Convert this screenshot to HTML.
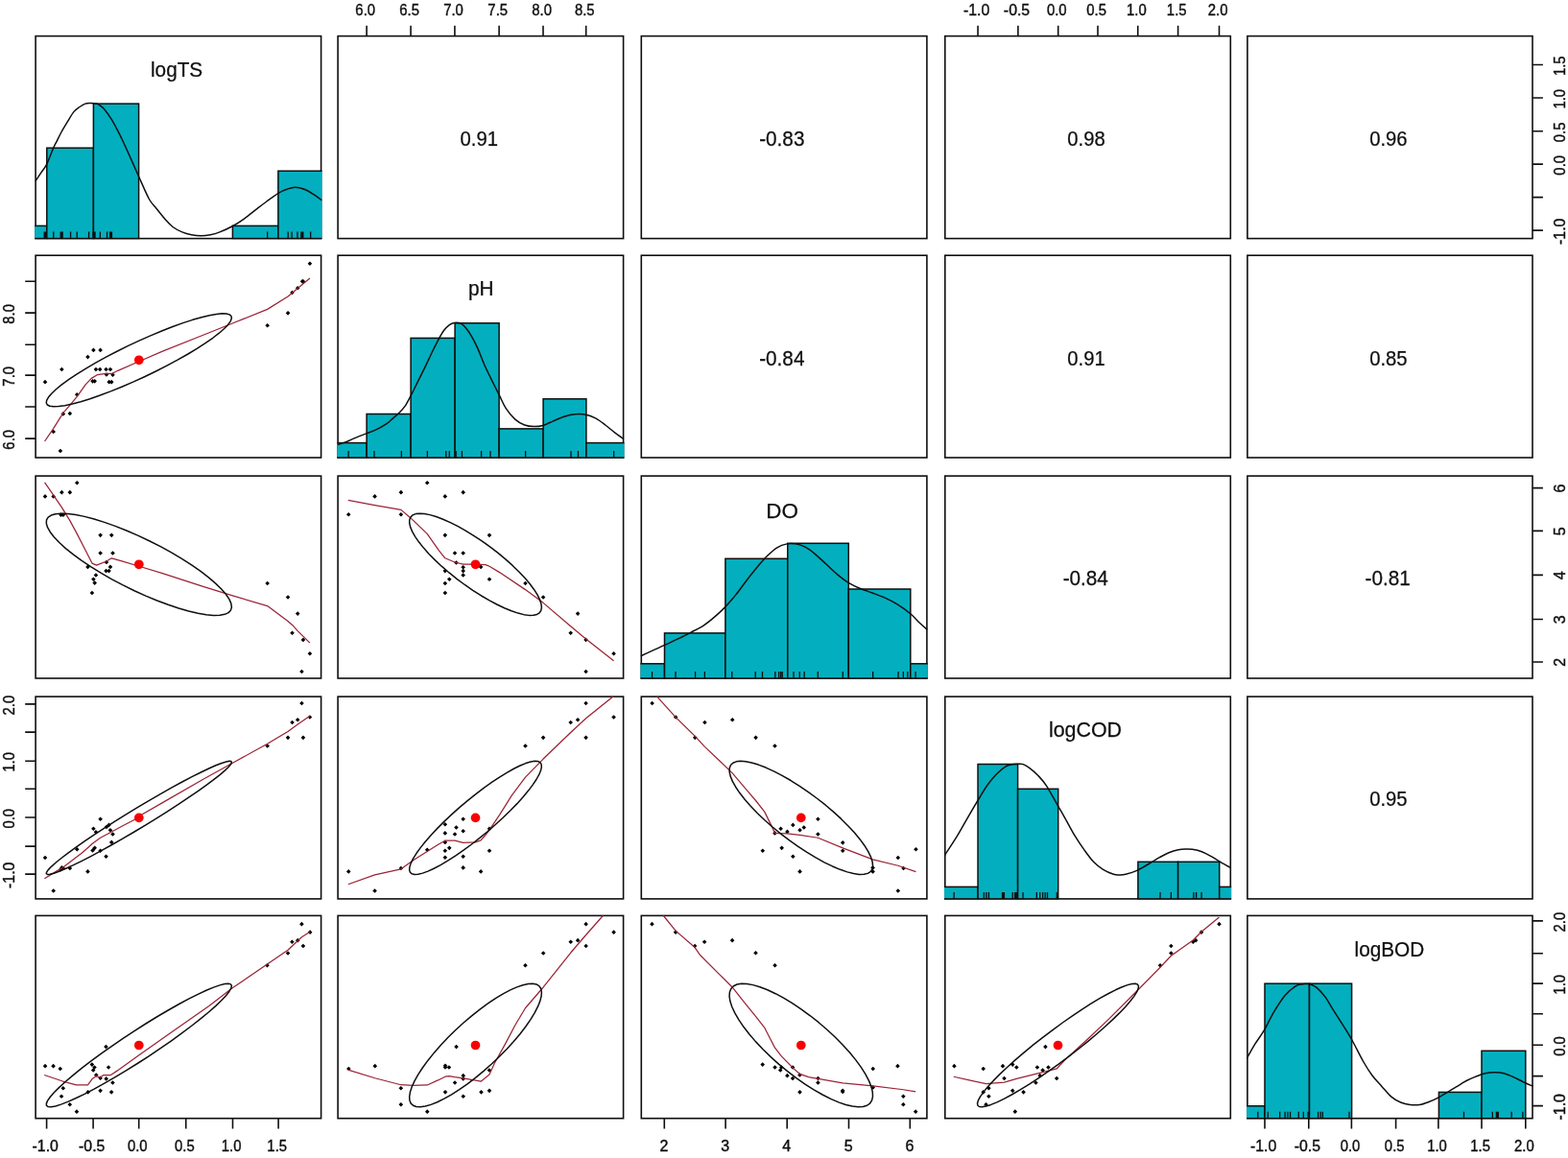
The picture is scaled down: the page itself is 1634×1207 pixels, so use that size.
<!DOCTYPE html>
<html lang="en"><head><meta charset="utf-8"><title>Scatterplot matrix: logTS, pH, DO, logCOD, logBOD</title>
<style>
html,body{margin:0;padding:0;background:#fff;}
body{width:1634px;height:1207px;overflow:hidden;}
svg{display:block;}
text{font-family:"Liberation Sans",sans-serif;fill:#0f0f0f;stroke:#0f0f0f;stroke-width:0.25px;}
.tk{font-size:16.0px;stroke-width:0.4px;}
.lb{font-size:21.2px;}
.cr{font-size:21.6px;}
.ln{fill:none;stroke:#0f0f0f;stroke-width:1.6;}
.th{fill:none;stroke:#0f0f0f;stroke-width:1.5;stroke-linejoin:round;}
.sm{fill:none;stroke:#9b2335;stroke-width:1.25;stroke-linejoin:round;}
.bar{fill:#03afbe;stroke:#0f0f0f;stroke-width:1.5;}
.pt{fill:#000;}
.mu{fill:#f80000;}
</style></head><body>
<svg width="1634" height="1207" viewBox="0 0 1634 1207" role="img" aria-label="Scatterplot matrix of logTS, pH, DO, logCOD and logBOD">
<rect x="0" y="0" width="1634" height="1207" fill="#fff"/>
<defs>
<clipPath id="c00"><rect x="36.25" y="36.75" width="299.2" height="212.7"/></clipPath>
<clipPath id="c01"><rect x="351.25" y="36.75" width="299.2" height="212.7"/></clipPath>
<clipPath id="c02"><rect x="667.45" y="36.75" width="299.3" height="212.7"/></clipPath>
<clipPath id="c03"><rect x="983.95" y="36.75" width="299.2" height="212.7"/></clipPath>
<clipPath id="c04"><rect x="1299.05" y="36.75" width="298.8" height="212.7"/></clipPath>
<clipPath id="c10"><rect x="36.25" y="265.35" width="299.2" height="212.5"/></clipPath>
<clipPath id="c11"><rect x="351.25" y="265.35" width="299.2" height="212.5"/></clipPath>
<clipPath id="c12"><rect x="667.45" y="265.35" width="299.3" height="212.5"/></clipPath>
<clipPath id="c13"><rect x="983.95" y="265.35" width="299.2" height="212.5"/></clipPath>
<clipPath id="c14"><rect x="1299.05" y="265.35" width="298.8" height="212.5"/></clipPath>
<clipPath id="c20"><rect x="36.25" y="495.25" width="299.2" height="212.6"/></clipPath>
<clipPath id="c21"><rect x="351.25" y="495.25" width="299.2" height="212.6"/></clipPath>
<clipPath id="c22"><rect x="667.45" y="495.25" width="299.3" height="212.6"/></clipPath>
<clipPath id="c23"><rect x="983.95" y="495.25" width="299.2" height="212.6"/></clipPath>
<clipPath id="c24"><rect x="1299.05" y="495.25" width="298.8" height="212.6"/></clipPath>
<clipPath id="c30"><rect x="36.25" y="725.25" width="299.2" height="212.5"/></clipPath>
<clipPath id="c31"><rect x="351.25" y="725.25" width="299.2" height="212.5"/></clipPath>
<clipPath id="c32"><rect x="667.45" y="725.25" width="299.3" height="212.5"/></clipPath>
<clipPath id="c33"><rect x="983.95" y="725.25" width="299.2" height="212.5"/></clipPath>
<clipPath id="c34"><rect x="1299.05" y="725.25" width="298.8" height="212.5"/></clipPath>
<clipPath id="c40"><rect x="36.25" y="953.55" width="299.2" height="213"/></clipPath>
<clipPath id="c41"><rect x="351.25" y="953.55" width="299.2" height="213"/></clipPath>
<clipPath id="c42"><rect x="667.45" y="953.55" width="299.3" height="213"/></clipPath>
<clipPath id="c43"><rect x="983.95" y="953.55" width="299.2" height="213"/></clipPath>
<clipPath id="c44"><rect x="1299.05" y="953.55" width="298.8" height="213"/></clipPath>
</defs>
<g id="p11">
<rect class="ln" x="37.1" y="37.6" width="297.5" height="211"/>
<g clip-path="url(#c00)">
<rect class="bar" x="32.1" y="235.4" width="16.7" height="13.2"/>
<rect class="bar" x="48.8" y="154.2" width="48.6" height="94.4"/>
<rect class="bar" x="97.4" y="108.1" width="47.2" height="140.5"/>
<rect class="bar" x="242.4" y="235.4" width="47.5" height="13.2"/>
<rect class="bar" x="289.9" y="178.2" width="49.7" height="70.4"/>
<path class="ln" style="stroke-width:1.3" d="M55.77 248.6 V241.6M73.59 248.6 V241.6M80.25 248.6 V241.6M92.59 248.6 V241.6M104.34 248.6 V241.6M111.58 248.6 V241.6M278.63 248.6 V241.6M300.17 248.6 V241.6M304.09 248.6 V241.6M309.97 248.6 V241.6M323.67 248.6 V241.6"/>
<path class="ln" style="stroke-width:3.2" d="M47.15 248.6 V241.6M64.19 248.6 V241.6M98.07 248.6 V241.6M115.5 248.6 V241.6M314.86 248.6 V241.6"/>
<path class="th" d="M36.9 188.9 C37.87 187.43 40.75 183.03 42.7 180.1 C44.65 177.17 46.47 175.55 48.6 171.3 C50.73 167.05 53.7 158.68 55.5 154.6 C57.3 150.52 58.02 149.57 59.4 146.8 C60.78 144.03 62 141.27 63.8 138 C65.6 134.73 68 130.8 70.2 127.2 C72.4 123.6 74.88 119.02 77 116.4 C79.12 113.78 80.93 112.88 82.9 111.5 C84.87 110.12 86.87 108.75 88.8 108.1 C90.73 107.45 92.55 107.6 94.5 107.6 C96.45 107.6 98.85 107.68 100.5 108.1 C102.15 108.52 103.08 109.2 104.4 110.1 C105.72 111 106.43 111.13 108.4 113.5 C110.37 115.87 113.92 120.7 116.2 124.3 C118.48 127.9 120.15 131.35 122.1 135.1 C124.05 138.85 125.3 141.25 127.9 146.8 C130.5 152.35 134.92 162.2 137.7 168.4 C140.48 174.6 141.65 177.48 144.6 184 C147.55 190.52 152.32 201.92 155.4 207.5 C158.48 213.08 160.18 213.83 163.1 217.5 C166.02 221.17 170.08 226.33 172.9 229.5 C175.72 232.67 177.18 234.43 180 236.5 C182.82 238.57 186.53 240.52 189.8 241.9 C193.07 243.28 196.33 244.15 199.6 244.8 C202.87 245.45 206.13 245.8 209.4 245.8 C212.67 245.8 215.93 245.45 219.2 244.8 C222.47 244.15 225.08 243.45 229 241.9 C232.92 240.35 238.47 237.8 242.7 235.5 C246.93 233.2 250.17 231.12 254.4 228.1 C258.63 225.08 264.18 220.42 268.1 217.4 C272.02 214.38 274.3 212.62 277.9 210 C281.5 207.38 286.43 203.73 289.7 201.7 C292.97 199.67 294.57 198.87 297.5 197.8 C300.43 196.73 304.03 195.38 307.3 195.3 C310.57 195.22 313.83 196.07 317.1 197.3 C320.37 198.53 323.83 200.77 326.9 202.7 C329.97 204.63 334.07 207.87 335.5 208.9"/>
</g>
<text class="lb" style="font-size:21.2px" transform="translate(184.1 79.9) scale(0.98 1)" text-anchor="middle">logTS</text>
</g>
<g id="p12">
<rect class="ln" x="352.1" y="37.6" width="297.5" height="211"/>
<text class="cr" transform="translate(499.25 152) scale(0.936 1)" text-anchor="middle">0.91</text>
</g>
<g id="p13">
<rect class="ln" x="668.3" y="37.6" width="297.6" height="211"/>
<text class="cr" transform="translate(814.8 152) scale(0.96 1)" text-anchor="middle">-0.83</text>
</g>
<g id="p14">
<rect class="ln" x="984.8" y="37.6" width="297.5" height="211"/>
<text class="cr" transform="translate(1131.95 152) scale(0.936 1)" text-anchor="middle">0.98</text>
</g>
<g id="p15">
<rect class="ln" x="1299.9" y="37.6" width="297.1" height="211"/>
<text class="cr" transform="translate(1446.85 152) scale(0.936 1)" text-anchor="middle">0.96</text>
</g>
<g id="p21">
<rect class="ln" x="37.1" y="266.2" width="297.5" height="210.8"/>
<g clip-path="url(#c10)">
<path class="pt" d="M47.01 395.87l2.3 2.3l-2.3 2.3l-2.3 -2.3zM55.69 447.76l2.3 2.3l-2.3 2.3l-2.3 -2.3zM62.89 467.67l2.3 2.3l-2.3 2.3l-2.3 -2.3zM64.37 382.74l2.3 2.3l-2.3 2.3l-2.3 -2.3zM65.85 429.12l2.3 2.3l-2.3 2.3l-2.3 -2.3zM72.84 428.7l2.3 2.3l-2.3 2.3l-2.3 -2.3zM80.25 409l2.3 2.3l-2.3 2.3l-2.3 -2.3zM91.48 369.82l2.3 2.3l-2.3 2.3l-2.3 -2.3zM97.41 362.62l2.3 2.3l-2.3 2.3l-2.3 -2.3zM104.6 362.62l2.3 2.3l-2.3 2.3l-2.3 -2.3zM99.95 382.74l2.3 2.3l-2.3 2.3l-2.3 -2.3zM104.18 382.74l2.3 2.3l-2.3 2.3l-2.3 -2.3zM110.53 382.74l2.3 2.3l-2.3 2.3l-2.3 -2.3zM114.98 382.74l2.3 2.3l-2.3 2.3l-2.3 -2.3zM96.56 395.03l2.3 2.3l-2.3 2.3l-2.3 -2.3zM98.68 395.03l2.3 2.3l-2.3 2.3l-2.3 -2.3zM113.71 395.87l2.3 2.3l-2.3 2.3l-2.3 -2.3zM116.25 395.87l2.3 2.3l-2.3 2.3l-2.3 -2.3zM110.96 388.25l2.3 2.3l-2.3 2.3l-2.3 -2.3zM117.52 388.46l2.3 2.3l-2.3 2.3l-2.3 -2.3zM278.66 336.99l2.3 2.3l-2.3 2.3l-2.3 -2.3zM300.05 324.07l2.3 2.3l-2.3 2.3l-2.3 -2.3zM304.5 302.68l2.3 2.3l-2.3 2.3l-2.3 -2.3zM310.21 298.02l2.3 2.3l-2.3 2.3l-2.3 -2.3zM315.08 291.03l2.3 2.3l-2.3 2.3l-2.3 -2.3zM315.93 291.03l2.3 2.3l-2.3 2.3l-2.3 -2.3zM322.92 272.4l2.3 2.3l-2.3 2.3l-2.3 -2.3z"/>
<path class="sm" d="M46.59 460.02 L55.69 446.67 L65.85 430.37 L72.84 422.32 L80.25 413.42 L88.94 401.14 L95.29 394.36 L101.64 390.55 L110.11 389.49 L116.46 389.49 L122.82 386.31 L144.84 376.78 L169.4 366.19 L211.75 349.25 L243.51 336.54 L278.66 322.35 L300.05 309.01 L310.21 300.54 L322.92 289.95"/>
<circle class="mu" cx="144.8" cy="375.3" r="4.85"/>
<path class="th" d="M239.2 327.9 L235.97 327 L231.35 326.83 L225.42 327.39 L218.27 328.68 L210.01 330.67 L200.76 333.34 L190.66 336.65 L179.86 340.54 L168.53 344.96 L156.85 349.84 L144.98 355.11 L133.11 360.68 L121.41 366.48 L110.07 372.4 L99.26 378.37 L89.13 384.3 L79.85 390.09 L71.56 395.65 L64.37 400.91 L58.41 405.78 L53.75 410.18 L50.47 414.06 L48.63 417.35 L48.24 420 L49.32 421.97 L51.84 423.24 L55.77 423.78 L61.05 423.58 L67.6 422.66 L75.33 421.01 L84.1 418.68 L93.8 415.68 L104.26 412.07 L115.35 407.91 L126.87 403.25 L138.68 398.17 L150.57 392.74 L162.38 387.04 L173.91 381.17 L185.01 375.21 L195.5 369.25 L205.22 363.38 L214.03 357.7 L221.78 352.28 L228.37 347.21 L233.69 342.56 L237.66 338.41 L240.23 334.82 L241.35 331.84 L241 329.53Z"/>
</g>
</g>
<g id="p22">
<rect class="ln" x="352.1" y="266.2" width="297.5" height="210.8"/>
<g clip-path="url(#c11)">
<rect class="bar" x="347.1" y="461.6" width="35" height="15.4"/>
<rect class="bar" x="382.1" y="431.5" width="46" height="45.5"/>
<rect class="bar" x="428.1" y="352.4" width="46" height="124.6"/>
<rect class="bar" x="474.1" y="336.8" width="46" height="140.2"/>
<rect class="bar" x="520.1" y="446.9" width="46" height="30.1"/>
<rect class="bar" x="566.1" y="415.8" width="44.8" height="61.2"/>
<rect class="bar" x="610.9" y="461.6" width="43.7" height="15.4"/>
<path class="ln" style="stroke-width:1.3" d="M363.13 477 V470M389.96 477 V470M418.36 477 V470M445.38 477 V470M464.77 477 V470M468.29 477 V470M475.15 477 V470M481.42 477 V470M501.59 477 V470M510.99 477 V470M547.61 477 V470M595 477 V470M602.44 477 V470M639.65 477 V470"/>
<path class="th" d="M351.77 463.58 C353.24 463.09 357.48 461.85 360.58 460.64 C363.68 459.44 366.85 457.8 370.38 456.33 C373.9 454.87 378.14 453.23 381.73 451.83 C385.32 450.43 388.26 449.71 391.92 447.91 C395.57 446.12 401.04 442.79 403.67 441.06 C406.3 439.32 405.73 439.23 407.7 437.5 C409.67 435.77 413.05 433.15 415.5 430.7 C417.95 428.25 420.27 425.9 422.4 422.8 C424.53 419.7 426.18 416.17 428.3 412.1 C430.42 408.03 432.67 403.3 435.1 398.4 C437.53 393.5 440.28 388.1 442.9 382.7 C445.52 377.3 448.5 370.73 450.8 366 C453.1 361.27 454.75 357.88 456.7 354.3 C458.65 350.72 460.55 347.12 462.5 344.5 C464.45 341.88 466.6 339.93 468.4 338.6 C470.2 337.27 471.33 336.75 473.3 336.5 C475.27 336.25 478.08 336.1 480.2 337.1 C482.32 338.1 484.05 340.13 486 342.5 C487.95 344.87 489.93 347.87 491.9 351.3 C493.87 354.73 495.62 358.2 497.8 363.1 C499.98 368 502.74 375.54 505 380.7 C507.26 385.86 508.85 388.89 511.38 394.05 C513.91 399.22 517.58 406.46 520.19 411.68 C522.8 416.9 524.27 421.15 527.05 425.39 C529.82 429.63 533.57 434.2 536.84 437.14 C540.1 440.08 543.37 441.78 546.63 443.02 C549.89 444.26 553.22 444.52 556.42 444.58 C559.62 444.65 562.56 444.32 565.82 443.41 C569.09 442.49 572.35 440.63 576.01 439.1 C579.66 437.57 583.84 435.44 587.76 434.2 C591.67 432.96 595.66 431.98 599.51 431.66 C603.36 431.33 607.27 431.49 610.87 432.24 C614.46 433 617.72 434.37 621.05 436.16 C624.38 437.96 627.58 440.57 630.84 443.02 C634.1 445.46 637.43 448.4 640.63 450.85 C643.83 453.3 648.47 456.56 650.03 457.71"/>
</g>
<text class="lb" style="font-size:21.2px" transform="translate(501.2 308.4) scale(0.98 1)" text-anchor="middle">pH</text>
</g>
<g id="p23">
<rect class="ln" x="668.3" y="266.2" width="297.6" height="210.8"/>
<text class="cr" transform="translate(814.8 380.5) scale(0.96 1)" text-anchor="middle">-0.84</text>
</g>
<g id="p24">
<rect class="ln" x="984.8" y="266.2" width="297.5" height="210.8"/>
<text class="cr" transform="translate(1131.95 380.5) scale(0.936 1)" text-anchor="middle">0.91</text>
</g>
<g id="p25">
<rect class="ln" x="1299.9" y="266.2" width="297.1" height="210.8"/>
<text class="cr" transform="translate(1446.85 380.5) scale(0.936 1)" text-anchor="middle">0.85</text>
</g>
<g id="p31">
<rect class="ln" x="37.1" y="496.1" width="297.5" height="210.9"/>
<g clip-path="url(#c20)">
<path class="pt" d="M47.01 515.09l2.3 2.3l-2.3 2.3l-2.3 -2.3zM55.69 515.09l2.3 2.3l-2.3 2.3l-2.3 -2.3zM64.37 510.86l2.3 2.3l-2.3 2.3l-2.3 -2.3zM72.84 510.86l2.3 2.3l-2.3 2.3l-2.3 -2.3zM80.25 500.9l2.3 2.3l-2.3 2.3l-2.3 -2.3zM63.53 534.37l2.3 2.3l-2.3 2.3l-2.3 -2.3zM65.85 534.37l2.3 2.3l-2.3 2.3l-2.3 -2.3zM91.48 588.59l2.3 2.3l-2.3 2.3l-2.3 -2.3zM97.41 601.51l2.3 2.3l-2.3 2.3l-2.3 -2.3zM98.68 605.32l2.3 2.3l-2.3 2.3l-2.3 -2.3zM99.95 597.27l2.3 2.3l-2.3 2.3l-2.3 -2.3zM95.92 615.7l2.3 2.3l-2.3 2.3l-2.3 -2.3zM104.6 555.55l2.3 2.3l-2.3 2.3l-2.3 -2.3zM104.6 574.18l2.3 2.3l-2.3 2.3l-2.3 -2.3zM116.25 555.55l2.3 2.3l-2.3 2.3l-2.3 -2.3zM117.52 574.18l2.3 2.3l-2.3 2.3l-2.3 -2.3zM110.96 583.71l2.3 2.3l-2.3 2.3l-2.3 -2.3zM114.98 588.59l2.3 2.3l-2.3 2.3l-2.3 -2.3zM110.53 592.82l2.3 2.3l-2.3 2.3l-2.3 -2.3zM113.5 592.82l2.3 2.3l-2.3 2.3l-2.3 -2.3zM278.66 605.74l2.3 2.3l-2.3 2.3l-2.3 -2.3zM300.05 620.14l2.3 2.3l-2.3 2.3l-2.3 -2.3zM310.21 637.3l2.3 2.3l-2.3 2.3l-2.3 -2.3zM304.5 657.42l2.3 2.3l-2.3 2.3l-2.3 -2.3zM315.93 664.62l2.3 2.3l-2.3 2.3l-2.3 -2.3zM322.92 679.02l2.3 2.3l-2.3 2.3l-2.3 -2.3zM314.45 697.66l2.3 2.3l-2.3 2.3l-2.3 -2.3z"/>
<path class="sm" d="M46.59 502.78 L55.69 516.12 L64.37 528.83 L72.84 542.6 L80.25 556.36 L88.94 573.31 L95.92 587.07 L100.58 589.19 L110.96 584.96 L116.25 581.78 L127.05 584.96 L145.05 590.25 L169.4 597.66 L211.75 611.43 L242.45 620.96 L278.66 631.55 L300.05 647.44 L304.92 651.67 L310.21 657.6 L322.92 670.1"/>
<circle class="mu" cx="144.8" cy="588.3" r="4.85"/>
<path class="th" d="M116.64 603.8 L128.21 609.93 L140.03 615.73 L151.92 621.12 L163.7 626 L175.2 630.32 L186.24 634 L196.65 636.99 L206.27 639.24 L214.96 640.72 L222.59 641.4 L229.04 641.28 L234.21 640.35 L238.03 638.64 L240.43 636.16 L241.38 632.96 L240.87 629.08 L238.91 624.58 L235.51 619.53 L230.74 614.01 L224.67 608.1 L217.39 601.89 L209.01 595.47 L199.65 588.95 L189.46 582.41 L178.6 575.96 L167.22 569.7 L155.5 563.73 L143.63 558.12 L131.76 552.97 L120.1 548.36 L108.81 544.35 L98.07 541.01 L88.03 538.39 L78.86 536.52 L70.68 535.44 L63.63 535.16 L57.81 535.68 L53.31 537.01 L50.19 539.11 L48.51 541.95 L48.29 545.5 L49.53 549.7 L52.22 554.48 L56.3 559.77 L61.74 565.5 L68.42 571.57 L76.27 577.9 L85.16 584.38 L94.95 590.93 L105.49 597.43Z"/>
</g>
</g>
<g id="p32">
<rect class="ln" x="352.1" y="496.1" width="297.5" height="210.9"/>
<g clip-path="url(#c21)">
<path class="pt" d="M363.24 533.94l2.3 2.3l-2.3 2.3l-2.3 -2.3zM390.56 515.09l2.3 2.3l-2.3 2.3l-2.3 -2.3zM417.88 510.86l2.3 2.3l-2.3 2.3l-2.3 -2.3zM417.88 533.94l2.3 2.3l-2.3 2.3l-2.3 -2.3zM445.19 500.9l2.3 2.3l-2.3 2.3l-2.3 -2.3zM463.83 515.09l2.3 2.3l-2.3 2.3l-2.3 -2.3zM482.67 510.86l2.3 2.3l-2.3 2.3l-2.3 -2.3zM463.83 555.55l2.3 2.3l-2.3 2.3l-2.3 -2.3zM509.99 555.55l2.3 2.3l-2.3 2.3l-2.3 -2.3zM473.99 574.18l2.3 2.3l-2.3 2.3l-2.3 -2.3zM482.67 574.18l2.3 2.3l-2.3 2.3l-2.3 -2.3zM475.47 584.14l2.3 2.3l-2.3 2.3l-2.3 -2.3zM482.67 589.01l2.3 2.3l-2.3 2.3l-2.3 -2.3zM482.67 592.82l2.3 2.3l-2.3 2.3l-2.3 -2.3zM482.67 597.27l2.3 2.3l-2.3 2.3l-2.3 -2.3zM463.83 592.82l2.3 2.3l-2.3 2.3l-2.3 -2.3zM468.27 601.51l2.3 2.3l-2.3 2.3l-2.3 -2.3zM463.83 605.74l2.3 2.3l-2.3 2.3l-2.3 -2.3zM463.83 615.7l2.3 2.3l-2.3 2.3l-2.3 -2.3zM501.09 588.59l2.3 2.3l-2.3 2.3l-2.3 -2.3zM509.99 601.51l2.3 2.3l-2.3 2.3l-2.3 -2.3zM547.47 605.74l2.3 2.3l-2.3 2.3l-2.3 -2.3zM566.1 620.14l2.3 2.3l-2.3 2.3l-2.3 -2.3zM602.1 637.3l2.3 2.3l-2.3 2.3l-2.3 -2.3zM594.69 657.42l2.3 2.3l-2.3 2.3l-2.3 -2.3zM610.57 664.62l2.3 2.3l-2.3 2.3l-2.3 -2.3zM639.58 679.02l2.3 2.3l-2.3 2.3l-2.3 -2.3zM610.57 697.66l2.3 2.3l-2.3 2.3l-2.3 -2.3z"/>
<path class="sm" d="M362.82 521.42 L390.56 526.71 L417.88 531.37 L427.41 539.42 L445.19 556.36 L457.05 573.31 L463.83 581.78 L473.99 586.01 L482.67 588.13 L495.38 588.13 L505.75 588.56 L509.99 590.25 L520.58 596.6 L547.47 614.61 L566.1 628.37 L594.69 652.73 L610.57 666.07 L639.58 688.74"/>
<circle class="mu" cx="495.5" cy="588.3" r="4.85"/>
<path class="th" d="M476.01 603.33 L484.28 609.48 L492.72 615.31 L501.2 620.73 L509.6 625.66 L517.78 630.02 L525.62 633.75 L533.01 636.8 L539.83 639.1 L545.97 640.64 L551.35 641.38 L555.89 641.32 L559.51 640.45 L562.16 638.79 L563.79 636.37 L564.4 633.22 L563.96 629.39 L562.48 624.93 L559.98 619.92 L556.51 614.43 L552.11 608.55 L546.86 602.36 L540.83 595.95 L534.11 589.43 L526.8 582.89 L519.02 576.43 L510.88 570.16 L502.51 564.16 L494.04 558.52 L485.58 553.34 L477.28 548.68 L469.25 544.63 L461.62 541.24 L454.51 538.56 L448.01 536.63 L442.24 535.49 L437.27 535.15 L433.18 535.62 L430.04 536.88 L427.9 538.92 L426.77 541.72 L426.69 545.21 L427.66 549.37 L429.65 554.11 L432.63 559.37 L436.58 565.06 L441.41 571.12 L447.07 577.43 L453.45 583.9 L460.48 590.44 L468.04 596.95Z"/>
</g>
</g>
<g id="p33">
<rect class="ln" x="668.3" y="496.1" width="297.6" height="210.9"/>
<g clip-path="url(#c22)">
<rect class="bar" x="663.3" y="691.8" width="29.2" height="15.2"/>
<rect class="bar" x="692.5" y="659.9" width="63.4" height="47.1"/>
<rect class="bar" x="755.9" y="582.3" width="64.9" height="124.7"/>
<rect class="bar" x="820.8" y="566.3" width="63.5" height="140.7"/>
<rect class="bar" x="884.3" y="614" width="64.5" height="93"/>
<rect class="bar" x="948.8" y="691.8" width="22.1" height="15.2"/>
<path class="ln" style="stroke-width:1.3" d="M679.52 707 V700M704 707 V700M724.56 707 V700M734.36 707 V700M762.75 707 V700M787.23 707 V700M794.48 707 V700M807.8 707 V700M811.71 707 V700M813.67 707 V700M815.24 707 V700M826.99 707 V700M833.25 707 V700M838.15 707 V700M852.25 707 V700M878.3 707 V700M909.63 707 V700M936.07 707 V700M941.36 707 V700M945.86 707 V700M954.09 707 V700"/>
<path class="th" d="M667.77 683.79 C669.89 682.81 676.36 679.81 680.5 677.91 C684.65 676.02 688.4 674.39 692.64 672.43 C696.89 670.47 701.46 668.35 705.96 666.16 C710.46 663.97 715.1 661.69 719.67 659.31 C724.24 656.92 729.13 654.64 733.38 651.86 C737.62 649.09 741.44 645.83 745.13 642.66 C748.82 639.49 751.92 636.62 755.51 632.87 C759.1 629.11 762.85 624.87 766.67 620.14 C770.49 615.4 774.5 609.53 778.42 604.47 C782.34 599.41 786.58 594.02 790.17 589.78 C793.76 585.54 796.7 582.17 799.96 579.01 C803.23 575.84 806.39 572.81 809.75 570.78 C813.12 568.76 816.87 567.52 820.13 566.87 C823.4 566.21 826.17 566.31 829.34 566.87 C832.5 567.42 835.87 568.5 839.13 570.2 C842.39 571.89 845.33 574.11 848.92 577.05 C852.51 579.99 856.76 584.23 860.67 587.82 C864.59 591.41 868.51 595.33 872.42 598.59 C876.34 601.86 880.26 604.96 884.17 607.41 C888.09 609.85 891.68 611.49 895.92 613.28 C900.17 615.08 905.06 616.45 909.63 618.18 C914.2 619.91 919.1 621.7 923.34 623.66 C927.58 625.62 930.85 627.25 935.09 629.93 C939.33 632.61 944.88 636.46 948.8 639.72 C952.72 642.99 955.65 646.74 958.59 649.51 C961.53 652.29 965.12 655.23 966.42 656.37"/>
</g>
<text class="lb" style="font-size:22.4px" transform="translate(815.1 539.7) scale(1.0 1)" text-anchor="middle">DO</text>
</g>
<g id="p34">
<rect class="ln" x="984.8" y="496.1" width="297.5" height="210.9"/>
<text class="cr" transform="translate(1131.25 610.45) scale(0.96 1)" text-anchor="middle">-0.84</text>
</g>
<g id="p35">
<rect class="ln" x="1299.9" y="496.1" width="297.1" height="210.9"/>
<text class="cr" transform="translate(1446.15 610.45) scale(0.96 1)" text-anchor="middle">-0.81</text>
</g>
<g id="p41">
<rect class="ln" x="37.1" y="726.1" width="297.5" height="210.8"/>
<g clip-path="url(#c30)">
<path class="pt" d="M47.01 891.7l2.3 2.3l-2.3 2.3l-2.3 -2.3zM55.69 926.23l2.3 2.3l-2.3 2.3l-2.3 -2.3zM62.89 904.2l2.3 2.3l-2.3 2.3l-2.3 -2.3zM64.37 902.08l2.3 2.3l-2.3 2.3l-2.3 -2.3zM65.85 902.72l2.3 2.3l-2.3 2.3l-2.3 -2.3zM72.84 902.72l2.3 2.3l-2.3 2.3l-2.3 -2.3zM80.25 883.02l2.3 2.3l-2.3 2.3l-2.3 -2.3zM91.48 906.11l2.3 2.3l-2.3 2.3l-2.3 -2.3zM97.41 861.42l2.3 2.3l-2.3 2.3l-2.3 -2.3zM99.95 865.02l2.3 2.3l-2.3 2.3l-2.3 -2.3zM104.6 851.46l2.3 2.3l-2.3 2.3l-2.3 -2.3zM96.56 884.08l2.3 2.3l-2.3 2.3l-2.3 -2.3zM98.68 881.54l2.3 2.3l-2.3 2.3l-2.3 -2.3zM104.6 884.5l2.3 2.3l-2.3 2.3l-2.3 -2.3zM110.53 890.43l2.3 2.3l-2.3 2.3l-2.3 -2.3zM110.96 859.72l2.3 2.3l-2.3 2.3l-2.3 -2.3zM113.5 857.6l2.3 2.3l-2.3 2.3l-2.3 -2.3zM114.98 862.9l2.3 2.3l-2.3 2.3l-2.3 -2.3zM117.52 867.14l2.3 2.3l-2.3 2.3l-2.3 -2.3zM116.25 875.61l2.3 2.3l-2.3 2.3l-2.3 -2.3zM278.66 775.22l2.3 2.3l-2.3 2.3l-2.3 -2.3zM300.05 766.53l2.3 2.3l-2.3 2.3l-2.3 -2.3zM304.5 750.65l2.3 2.3l-2.3 2.3l-2.3 -2.3zM310.21 747.9l2.3 2.3l-2.3 2.3l-2.3 -2.3zM314.45 730.74l2.3 2.3l-2.3 2.3l-2.3 -2.3zM315.93 766.53l2.3 2.3l-2.3 2.3l-2.3 -2.3zM322.92 745.14l2.3 2.3l-2.3 2.3l-2.3 -2.3z"/>
<path class="sm" d="M46.37 915.82 L55.9 909.89 L65.43 904.17 L75.59 896.54 L86.39 888.28 L96.35 879.18 L104.6 873.25 L115.4 867.53 L127.9 860.75 L140.39 854.19 L144.84 850.8 L169.4 836.61 L211.75 812.25 L242.45 795.31 L278.66 775.19 L300.05 762.48 L310.21 755.07 L322.92 746.17"/>
<circle class="mu" cx="144.8" cy="852.4" r="4.85"/>
<path class="th" d="M240.92 793.6 L239 793.32 L235.66 793.93 L230.94 795.43 L224.91 797.8 L217.67 800.99 L209.32 804.96 L200 809.65 L189.84 814.99 L179 820.9 L167.63 827.28 L155.93 834.05 L144.05 841.09 L132.18 848.3 L120.51 855.58 L109.21 862.81 L98.44 869.88 L88.38 876.68 L79.17 883.12 L70.96 889.09 L63.86 894.51 L58 899.28 L53.44 903.35 L50.28 906.64 L48.55 909.12 L48.27 910.73 L49.46 911.46 L52.1 911.29 L56.14 910.23 L61.52 908.29 L68.17 905.51 L75.97 901.92 L84.83 897.58 L94.59 892.55 L105.11 886.92 L116.23 880.76 L127.79 874.18 L139.6 867.26 L151.5 860.12 L163.29 852.86 L174.8 845.59 L185.86 838.43 L196.29 831.48 L205.94 824.85 L214.67 818.63 L222.34 812.93 L228.83 807.82 L234.05 803.39 L237.91 799.7 L240.37 796.81 L241.37 794.77Z"/>
</g>
</g>
<g id="p42">
<rect class="ln" x="352.1" y="726.1" width="297.5" height="210.8"/>
<g clip-path="url(#c31)">
<path class="pt" d="M363.24 906.11l2.3 2.3l-2.3 2.3l-2.3 -2.3zM390.56 926.23l2.3 2.3l-2.3 2.3l-2.3 -2.3zM417.88 902.72l2.3 2.3l-2.3 2.3l-2.3 -2.3zM445.19 883.44l2.3 2.3l-2.3 2.3l-2.3 -2.3zM463.83 856.97l2.3 2.3l-2.3 2.3l-2.3 -2.3zM463.83 866.08l2.3 2.3l-2.3 2.3l-2.3 -2.3zM463.83 875.61l2.3 2.3l-2.3 2.3l-2.3 -2.3zM463.83 884.5l2.3 2.3l-2.3 2.3l-2.3 -2.3zM463.83 891.49l2.3 2.3l-2.3 2.3l-2.3 -2.3zM468.27 881.54l2.3 2.3l-2.3 2.3l-2.3 -2.3zM473.99 867.14l2.3 2.3l-2.3 2.3l-2.3 -2.3zM475.47 860.15l2.3 2.3l-2.3 2.3l-2.3 -2.3zM482.67 851.46l2.3 2.3l-2.3 2.3l-2.3 -2.3zM482.67 863.96l2.3 2.3l-2.3 2.3l-2.3 -2.3zM482.67 890.43l2.3 2.3l-2.3 2.3l-2.3 -2.3zM482.67 902.08l2.3 2.3l-2.3 2.3l-2.3 -2.3zM501.09 906.11l2.3 2.3l-2.3 2.3l-2.3 -2.3zM509.99 861.42l2.3 2.3l-2.3 2.3l-2.3 -2.3zM509.99 884.5l2.3 2.3l-2.3 2.3l-2.3 -2.3zM547.47 775.22l2.3 2.3l-2.3 2.3l-2.3 -2.3zM566.1 766.53l2.3 2.3l-2.3 2.3l-2.3 -2.3zM594.69 750.65l2.3 2.3l-2.3 2.3l-2.3 -2.3zM602.1 747.9l2.3 2.3l-2.3 2.3l-2.3 -2.3zM610.57 730.74l2.3 2.3l-2.3 2.3l-2.3 -2.3zM610.57 766.53l2.3 2.3l-2.3 2.3l-2.3 -2.3zM639.58 745.14l2.3 2.3l-2.3 2.3l-2.3 -2.3z"/>
<path class="sm" d="M362.82 921.75 L390.56 911.79 L417.88 905.86 L431.64 895.91 L445.19 887.44 L457.05 880.02 L463.83 876.21 L473.99 876.21 L482.67 878.33 L495.38 877.91 L501.09 875.79 L505.75 870.49 L509.99 865.2 L520.58 849.31 L533.28 829.19 L547.47 810.13 L566.1 791.07 L594.69 763.54 L610.57 748.71 L639.58 725.42"/>
<circle class="mu" cx="495.5" cy="852.4" r="4.85"/>
<path class="th" d="M562.83 794.65 L560.53 793.54 L557.23 793.33 L553.01 794.02 L547.91 795.59 L542.01 798.02 L535.41 801.27 L528.21 805.3 L520.51 810.05 L512.43 815.43 L504.09 821.38 L495.63 827.8 L487.16 834.59 L478.82 841.65 L470.73 848.87 L463.02 856.15 L455.8 863.37 L449.18 870.42 L443.26 877.2 L438.14 883.6 L433.88 889.54 L430.56 894.9 L428.22 899.63 L426.91 903.64 L426.63 906.87 L427.4 909.27 L429.2 910.82 L432 911.48 L435.77 911.24 L440.44 910.11 L445.95 908.1 L452.21 905.26 L459.12 901.61 L466.59 897.21 L474.49 892.13 L482.71 886.46 L491.13 880.26 L499.61 873.65 L508.04 866.71 L516.27 859.55 L524.18 852.29 L531.66 845.03 L538.6 837.88 L544.88 830.95 L550.41 824.34 L555.11 818.16 L558.9 812.5 L561.73 807.45 L563.57 803.07 L564.36 799.45 L564.12 796.62Z"/>
</g>
</g>
<g id="p43">
<rect class="ln" x="668.3" y="726.1" width="297.6" height="210.8"/>
<g clip-path="url(#c32)">
<path class="pt" d="M679.6 730.74l2.3 2.3l-2.3 2.3l-2.3 -2.3zM704.16 745.14l2.3 2.3l-2.3 2.3l-2.3 -2.3zM724.28 766.53l2.3 2.3l-2.3 2.3l-2.3 -2.3zM734.44 750.65l2.3 2.3l-2.3 2.3l-2.3 -2.3zM763.24 747.9l2.3 2.3l-2.3 2.3l-2.3 -2.3zM787.59 766.53l2.3 2.3l-2.3 2.3l-2.3 -2.3zM807.49 775.22l2.3 2.3l-2.3 2.3l-2.3 -2.3zM794.79 884.5l2.3 2.3l-2.3 2.3l-2.3 -2.3zM807.49 866.08l2.3 2.3l-2.3 2.3l-2.3 -2.3zM813.64 861.42l2.3 2.3l-2.3 2.3l-2.3 -2.3zM814.69 881.54l2.3 2.3l-2.3 2.3l-2.3 -2.3zM820.41 864.59l2.3 2.3l-2.3 2.3l-2.3 -2.3zM826.34 857.6l2.3 2.3l-2.3 2.3l-2.3 -2.3zM826.34 890.43l2.3 2.3l-2.3 2.3l-2.3 -2.3zM833.54 862.9l2.3 2.3l-2.3 2.3l-2.3 -2.3zM837.77 860.15l2.3 2.3l-2.3 2.3l-2.3 -2.3zM833.54 906.11l2.3 2.3l-2.3 2.3l-2.3 -2.3zM852.39 851.46l2.3 2.3l-2.3 2.3l-2.3 -2.3zM852.39 867.14l2.3 2.3l-2.3 2.3l-2.3 -2.3zM878.22 876.03l2.3 2.3l-2.3 2.3l-2.3 -2.3zM878.22 884.5l2.3 2.3l-2.3 2.3l-2.3 -2.3zM909.56 902.08l2.3 2.3l-2.3 2.3l-2.3 -2.3zM909.56 906.11l2.3 2.3l-2.3 2.3l-2.3 -2.3zM935.82 891.7l2.3 2.3l-2.3 2.3l-2.3 -2.3zM941.53 902.72l2.3 2.3l-2.3 2.3l-2.3 -2.3zM954.45 883.02l2.3 2.3l-2.3 2.3l-2.3 -2.3zM935.82 926.23l2.3 2.3l-2.3 2.3l-2.3 -2.3z"/>
<path class="sm" d="M684.47 725.84 L704.16 747.65 L724.28 767.35 L734.44 778.36 L750.11 793.19 L763.24 805.9 L777.64 822.84 L787.59 834.49 L796.7 846.14 L803.05 858.85 L807.49 868.38 L820.41 868.8 L833.54 870.49 L852.39 873.25 L878.22 883.84 L909.56 895.91 L935.82 902.26 L954.45 908.62"/>
<circle class="mu" cx="834.8" cy="852.4" r="4.85"/>
<path class="th" d="M813.66 869.12 L822.63 875.96 L831.78 882.44 L840.99 888.46 L850.09 893.95 L858.97 898.8 L867.48 902.94 L875.49 906.32 L882.89 908.89 L889.56 910.59 L895.4 911.42 L900.31 911.35 L904.24 910.39 L907.11 908.55 L908.89 905.85 L909.55 902.35 L909.07 898.09 L907.46 893.13 L904.76 887.56 L900.99 881.46 L896.22 874.92 L890.52 868.03 L883.97 860.91 L876.68 853.66 L868.76 846.38 L860.32 839.21 L851.49 832.23 L842.41 825.55 L833.21 819.29 L824.04 813.52 L815.03 808.35 L806.32 803.84 L798.05 800.07 L790.33 797.09 L783.28 794.95 L777.01 793.68 L771.63 793.3 L767.19 793.82 L763.79 795.23 L761.46 797.5 L760.24 800.6 L760.15 804.49 L761.19 809.11 L763.35 814.38 L766.6 820.23 L770.87 826.56 L776.12 833.29 L782.25 840.31 L789.19 847.51 L796.81 854.78 L805.01 862.02Z"/>
</g>
</g>
<g id="p44">
<rect class="ln" x="984.8" y="726.1" width="297.5" height="210.8"/>
<g clip-path="url(#c33)">
<rect class="bar" x="979.8" y="924.4" width="39.25" height="12.5"/>
<rect class="bar" x="1019.05" y="796.5" width="41.55" height="140.4"/>
<rect class="bar" x="1060.6" y="822.3" width="42.1" height="114.6"/>
<rect class="bar" x="1185.9" y="898.3" width="41.7" height="38.6"/>
<rect class="bar" x="1227.6" y="898.3" width="43.1" height="38.6"/>
<rect class="bar" x="1270.7" y="924.4" width="16.6" height="12.5"/>
<path class="ln" style="stroke-width:1.3" d="M994.17 936.9 V929.9M1025.31 936.9 V929.9M1027.86 936.9 V929.9M1030.4 936.9 V929.9M1055.27 936.9 V929.9M1066.04 936.9 V929.9M1080.34 936.9 V929.9M1083.67 936.9 V929.9M1086.61 936.9 V929.9M1089.15 936.9 V929.9M1091.5 936.9 V929.9M1101.29 936.9 V929.9M1209.01 936.9 V929.9M1220.36 936.9 V929.9M1243.87 936.9 V929.9M1246.61 936.9 V929.9M1252.09 936.9 V929.9"/>
<path class="ln" style="stroke-width:3.2" d="M1045.48 936.9 V929.9M1058.6 936.9 V929.9"/>
<path class="th" d="M984 892.2 C984.15 891.97 982.63 894.3 984.9 890.8 C987.17 887.3 993.52 877.9 997.6 871.2 C1001.68 864.5 1005.8 856.8 1009.4 850.6 C1013 844.4 1015.93 839.38 1019.2 834 C1022.47 828.62 1025.73 822.88 1029 818.3 C1032.27 813.72 1035.53 809.77 1038.8 806.5 C1042.07 803.23 1045.67 800.35 1048.6 798.7 C1051.53 797.05 1054.28 797.02 1056.4 796.6 C1058.52 796.18 1059.67 796.2 1061.3 796.2 C1062.93 796.2 1064.25 795.85 1066.2 796.6 C1068.15 797.35 1070.38 798.72 1073 800.7 C1075.62 802.68 1078.95 805.4 1081.9 808.5 C1084.85 811.6 1087.28 814.08 1090.7 819.3 C1094.12 824.52 1099.13 834.08 1102.4 839.8 C1105.67 845.52 1107.35 848.37 1110.3 853.6 C1113.25 858.83 1116.83 865.82 1120.1 871.2 C1123.37 876.58 1126.62 881.33 1129.9 885.9 C1133.18 890.47 1136.52 895.18 1139.8 898.6 C1143.08 902.02 1146.17 904.28 1149.6 906.4 C1153.03 908.52 1157.53 910.37 1160.4 911.3 C1163.27 912.23 1164.68 912 1166.8 912 C1168.92 912 1170.1 912.07 1173.1 911.3 C1176.1 910.53 1180.55 909.37 1184.8 907.4 C1189.05 905.43 1194.67 901.78 1198.6 899.5 C1202.53 897.22 1205.15 895.48 1208.4 893.7 C1211.65 891.92 1214.85 890.12 1218.1 888.8 C1221.35 887.48 1225.03 886.43 1227.9 885.8 C1230.77 885.17 1232.85 885.08 1235.3 885 C1237.75 884.92 1239.75 884.83 1242.6 885.3 C1245.45 885.77 1249.13 886.57 1252.4 887.8 C1255.67 889.03 1258.93 890.9 1262.2 892.7 C1265.47 894.5 1268.5 896.57 1272 898.6 C1275.5 900.63 1281.33 903.85 1283.2 904.9"/>
</g>
<text class="lb" style="font-size:21.2px" transform="translate(1131 768.3) scale(1.01 1)" text-anchor="middle">logCOD</text>
</g>
<g id="p45">
<rect class="ln" x="1299.9" y="726.1" width="297.1" height="210.8"/>
<text class="cr" transform="translate(1446.85 840.4) scale(0.936 1)" text-anchor="middle">0.95</text>
</g>
<g id="p51">
<rect class="ln" x="37.1" y="954.4" width="297.5" height="211.3"/>
<g clip-path="url(#c40)">
<path class="pt" d="M47.06 1108.83l2.3 2.3l-2.3 2.3l-2.3 -2.3zM55.56 1108.83l2.3 2.3l-2.3 2.3l-2.3 -2.3zM62.75 1111.66l2.3 2.3l-2.3 2.3l-2.3 -2.3zM65.8 1131.92l2.3 2.3l-2.3 2.3l-2.3 -2.3zM64.06 1140.42l2.3 2.3l-2.3 2.3l-2.3 -2.3zM72.77 1148.92l2.3 2.3l-2.3 2.3l-2.3 -2.3zM79.96 1156.33l2.3 2.3l-2.3 2.3l-2.3 -2.3zM91.73 1136.06l2.3 2.3l-2.3 2.3l-2.3 -2.3zM95.87 1107.3l2.3 2.3l-2.3 2.3l-2.3 -2.3zM98.48 1110.13l2.3 2.3l-2.3 2.3l-2.3 -2.3zM97.18 1113.18l2.3 2.3l-2.3 2.3l-2.3 -2.3zM100.23 1118.2l2.3 2.3l-2.3 2.3l-2.3 -2.3zM104.58 1121.46l2.3 2.3l-2.3 2.3l-2.3 -2.3zM104.58 1134.54l2.3 2.3l-2.3 2.3l-2.3 -2.3zM110.47 1088.78l2.3 2.3l-2.3 2.3l-2.3 -2.3zM110.69 1122.12l2.3 2.3l-2.3 2.3l-2.3 -2.3zM113.08 1110.13l2.3 2.3l-2.3 2.3l-2.3 -2.3zM116.13 1136.06l2.3 2.3l-2.3 2.3l-2.3 -2.3zM117.44 1126.26l2.3 2.3l-2.3 2.3l-2.3 -2.3zM278.46 1004.02l2.3 2.3l-2.3 2.3l-2.3 -2.3zM300.03 991.16l2.3 2.3l-2.3 2.3l-2.3 -2.3zM304.38 979.4l2.3 2.3l-2.3 2.3l-2.3 -2.3zM310.27 977.87l2.3 2.3l-2.3 2.3l-2.3 -2.3zM314.41 960.87l2.3 2.3l-2.3 2.3l-2.3 -2.3zM315.93 983.75l2.3 2.3l-2.3 2.3l-2.3 -2.3zM323.12 969.37l2.3 2.3l-2.3 2.3l-2.3 -2.3z"/>
<path class="sm" d="M46.19 1120.5 L65.37 1127.03 L79.53 1130.95 L91.51 1130.95 L95.87 1124.85 L100.23 1121.58 L104.58 1123.11 L107.85 1120.5 L115.48 1120.5 L122.02 1116.14 L144.89 1099.8 L174.31 1079.1 L217.88 1048.59 L241.85 1030.07 L278.46 1005.01 L300.03 990.19 L314.41 976.68 L323.12 971.24"/>
<circle class="mu" cx="144.8" cy="1089.5" r="4.85"/>
<path class="th" d="M240.43 1025.85 L238.03 1025.21 L234.21 1025.55 L229.04 1026.86 L222.59 1029.12 L214.96 1032.29 L206.27 1036.33 L196.64 1041.18 L186.23 1046.76 L175.2 1052.99 L163.7 1059.77 L151.91 1067 L140.02 1074.57 L128.2 1082.37 L116.63 1090.28 L105.49 1098.17 L94.94 1105.94 L85.15 1113.45 L76.27 1120.6 L68.42 1127.28 L61.73 1133.39 L56.3 1138.83 L52.21 1143.53 L49.53 1147.4 L48.29 1150.4 L48.51 1152.47 L50.19 1153.59 L53.31 1153.74 L57.81 1152.92 L63.63 1151.13 L70.69 1148.41 L78.86 1144.79 L88.04 1140.34 L98.07 1135.12 L108.82 1129.2 L120.11 1122.69 L131.77 1115.67 L143.63 1108.25 L155.51 1100.55 L167.23 1092.68 L178.6 1084.77 L189.47 1076.92 L199.65 1069.27 L209.01 1061.92 L217.39 1054.99 L224.67 1048.59 L230.75 1042.8 L235.51 1037.72 L238.91 1033.43 L240.87 1029.99 L241.38 1027.45Z"/>
</g>
</g>
<g id="p52">
<rect class="ln" x="352.1" y="954.4" width="297.5" height="211.3"/>
<g clip-path="url(#c41)">
<path class="pt" d="M363.34 1111.66l2.3 2.3l-2.3 2.3l-2.3 -2.3zM390.79 1108.83l2.3 2.3l-2.3 2.3l-2.3 -2.3zM417.81 1131.92l2.3 2.3l-2.3 2.3l-2.3 -2.3zM417.81 1148.92l2.3 2.3l-2.3 2.3l-2.3 -2.3zM445.26 1156.33l2.3 2.3l-2.3 2.3l-2.3 -2.3zM464 1108.39l2.3 2.3l-2.3 2.3l-2.3 -2.3zM464 1110.13l2.3 2.3l-2.3 2.3l-2.3 -2.3zM467.92 1110.13l2.3 2.3l-2.3 2.3l-2.3 -2.3zM464 1136.06l2.3 2.3l-2.3 2.3l-2.3 -2.3zM474.02 1126.26l2.3 2.3l-2.3 2.3l-2.3 -2.3zM475.55 1088.78l2.3 2.3l-2.3 2.3l-2.3 -2.3zM482.74 1118.85l2.3 2.3l-2.3 2.3l-2.3 -2.3zM482.74 1122.12l2.3 2.3l-2.3 2.3l-2.3 -2.3zM482.74 1140.42l2.3 2.3l-2.3 2.3l-2.3 -2.3zM501.47 1136.06l2.3 2.3l-2.3 2.3l-2.3 -2.3zM509.97 1113.18l2.3 2.3l-2.3 2.3l-2.3 -2.3zM509.97 1134.54l2.3 2.3l-2.3 2.3l-2.3 -2.3zM547.45 1004.02l2.3 2.3l-2.3 2.3l-2.3 -2.3zM566.19 991.16l2.3 2.3l-2.3 2.3l-2.3 -2.3zM594.73 979.4l2.3 2.3l-2.3 2.3l-2.3 -2.3zM602.14 977.87l2.3 2.3l-2.3 2.3l-2.3 -2.3zM610.63 960.87l2.3 2.3l-2.3 2.3l-2.3 -2.3zM610.63 983.75l2.3 2.3l-2.3 2.3l-2.3 -2.3zM639.61 969.37l2.3 2.3l-2.3 2.3l-2.3 -2.3z"/>
<path class="sm" d="M362.68 1115.05 L390.79 1123.76 L417.81 1130.74 L430.23 1131.39 L445.26 1130.95 L456.37 1125.94 L464 1122.24 L467.92 1121.58 L474.02 1122.67 L482.74 1123.76 L491.23 1125.29 L501.47 1127.03 L509.97 1120.06 L515.2 1108.51 L526.1 1088.9 L536.99 1068.2 L547.45 1050.77 L566.19 1028.98 L594.73 993.03 L610.63 974.51 L628.5 954.24"/>
<circle class="mu" cx="495.5" cy="1089.5" r="4.85"/>
<path class="th" d="M561.77 1027.66 L558.94 1025.96 L555.16 1025.23 L550.47 1025.47 L544.95 1026.69 L538.68 1028.85 L531.76 1031.94 L524.28 1035.89 L516.37 1040.66 L508.15 1046.17 L499.73 1052.34 L491.24 1059.07 L482.83 1066.26 L474.6 1073.8 L466.69 1081.59 L459.22 1089.49 L452.29 1097.39 L446.03 1105.17 L440.51 1112.72 L435.82 1119.91 L432.04 1126.64 L429.23 1132.81 L427.41 1138.32 L426.63 1143.09 L426.9 1147.05 L428.2 1150.14 L430.52 1152.31 L433.83 1153.52 L438.07 1153.77 L443.19 1153.04 L449.09 1151.35 L455.7 1148.72 L462.92 1145.19 L470.62 1140.82 L478.71 1135.67 L487.05 1129.82 L495.51 1123.36 L503.98 1116.39 L512.32 1109.01 L520.4 1101.33 L528.11 1093.47 L535.32 1085.55 L541.93 1077.7 L547.83 1070.02 L552.94 1062.64 L557.18 1055.66 L560.49 1049.2 L562.81 1043.35 L564.11 1038.2 L564.37 1033.82 L563.58 1030.29Z"/>
</g>
</g>
<g id="p53">
<rect class="ln" x="668.3" y="954.4" width="297.6" height="211.3"/>
<g clip-path="url(#c42)">
<path class="pt" d="M679.44 960.87l2.3 2.3l-2.3 2.3l-2.3 -2.3zM704.06 969.37l2.3 2.3l-2.3 2.3l-2.3 -2.3zM724.1 983.75l2.3 2.3l-2.3 2.3l-2.3 -2.3zM734.13 979.4l2.3 2.3l-2.3 2.3l-2.3 -2.3zM763.1 977.87l2.3 2.3l-2.3 2.3l-2.3 -2.3zM787.51 990.94l2.3 2.3l-2.3 2.3l-2.3 -2.3zM807.55 1004.02l2.3 2.3l-2.3 2.3l-2.3 -2.3zM794.7 1107.3l2.3 2.3l-2.3 2.3l-2.3 -2.3zM807.55 1110.13l2.3 2.3l-2.3 2.3l-2.3 -2.3zM814.31 1110.13l2.3 2.3l-2.3 2.3l-2.3 -2.3zM813.22 1113.18l2.3 2.3l-2.3 2.3l-2.3 -2.3zM820.41 1118.85l2.3 2.3l-2.3 2.3l-2.3 -2.3zM826.07 1110.13l2.3 2.3l-2.3 2.3l-2.3 -2.3zM826.07 1121.68l2.3 2.3l-2.3 2.3l-2.3 -2.3zM833.48 1118.2l2.3 2.3l-2.3 2.3l-2.3 -2.3zM833.48 1136.06l2.3 2.3l-2.3 2.3l-2.3 -2.3zM852.44 1121.68l2.3 2.3l-2.3 2.3l-2.3 -2.3zM852.44 1126.26l2.3 2.3l-2.3 2.3l-2.3 -2.3zM878.15 1134.54l2.3 2.3l-2.3 2.3l-2.3 -2.3zM878.15 1135.63l2.3 2.3l-2.3 2.3l-2.3 -2.3zM909.74 1111.66l2.3 2.3l-2.3 2.3l-2.3 -2.3zM909.74 1131.27l2.3 2.3l-2.3 2.3l-2.3 -2.3zM935.45 1108.83l2.3 2.3l-2.3 2.3l-2.3 -2.3zM941.33 1140.42l2.3 2.3l-2.3 2.3l-2.3 -2.3zM941.33 1148.92l2.3 2.3l-2.3 2.3l-2.3 -2.3zM954.19 1156.33l2.3 2.3l-2.3 2.3l-2.3 -2.3z"/>
<path class="sm" d="M691.2 954.24 L704.06 970.15 L724.1 987.58 L729.33 995.21 L748.94 1014.82 L763.1 1028.98 L775.09 1044.23 L787.51 1059.48 L796.88 1071.47 L807.55 1092.17 L814.31 1100.88 L826.07 1112.87 L833.48 1119.41 L842.63 1122.67 L852.44 1124.42 L878.15 1128.78 L909.74 1131.83 L941.33 1135.75 L954.19 1137.93"/>
<circle class="mu" cx="834.8" cy="1089.5" r="4.85"/>
<path class="th" d="M811.76 1109.32 L820.67 1116.69 L829.8 1123.64 L839 1130.08 L848.14 1135.9 L857.08 1141.02 L865.68 1145.36 L873.81 1148.85 L881.35 1151.44 L888.19 1153.09 L894.21 1153.78 L899.34 1153.49 L903.48 1152.24 L906.59 1150.03 L908.6 1146.91 L909.5 1142.91 L909.27 1138.11 L907.9 1132.57 L905.43 1126.37 L901.89 1119.62 L897.33 1112.41 L891.82 1104.85 L885.45 1097.06 L878.31 1089.16 L870.51 1081.26 L862.17 1073.48 L853.42 1065.95 L844.38 1058.78 L835.2 1052.07 L826.01 1045.93 L816.95 1040.45 L808.17 1035.71 L799.79 1031.79 L791.94 1028.74 L784.74 1026.62 L778.29 1025.44 L772.71 1025.24 L768.06 1026.01 L764.43 1027.75 L761.87 1030.42 L760.41 1033.99 L760.07 1038.39 L760.87 1043.58 L762.8 1049.46 L765.81 1055.94 L769.87 1062.94 L774.91 1070.33 L780.86 1078.02 L787.63 1085.88 L795.11 1093.8 L803.2 1101.65Z"/>
</g>
</g>
<g id="p54">
<rect class="ln" x="984.8" y="954.4" width="297.5" height="211.3"/>
<g clip-path="url(#c43)">
<path class="pt" d="M994.43 1108.83l2.3 2.3l-2.3 2.3l-2.3 -2.3zM1024.71 1111.66l2.3 2.3l-2.3 2.3l-2.3 -2.3zM1024.71 1136.06l2.3 2.3l-2.3 2.3l-2.3 -2.3zM1027.54 1148.92l2.3 2.3l-2.3 2.3l-2.3 -2.3zM1030.38 1131.92l2.3 2.3l-2.3 2.3l-2.3 -2.3zM1030.38 1140.42l2.3 2.3l-2.3 2.3l-2.3 -2.3zM1044.97 1108.83l2.3 2.3l-2.3 2.3l-2.3 -2.3zM1046.5 1121.68l2.3 2.3l-2.3 2.3l-2.3 -2.3zM1055.22 1107.3l2.3 2.3l-2.3 2.3l-2.3 -2.3zM1055.22 1134.54l2.3 2.3l-2.3 2.3l-2.3 -2.3zM1057.83 1156.33l2.3 2.3l-2.3 2.3l-2.3 -2.3zM1059.36 1110.13l2.3 2.3l-2.3 2.3l-2.3 -2.3zM1066.55 1136.06l2.3 2.3l-2.3 2.3l-2.3 -2.3zM1079.4 1126.26l2.3 2.3l-2.3 2.3l-2.3 -2.3zM1080.93 1110.13l2.3 2.3l-2.3 2.3l-2.3 -2.3zM1083.76 1118.85l2.3 2.3l-2.3 2.3l-2.3 -2.3zM1086.59 1113.18l2.3 2.3l-2.3 2.3l-2.3 -2.3zM1089.42 1088.78l2.3 2.3l-2.3 2.3l-2.3 -2.3zM1092.47 1110.13l2.3 2.3l-2.3 2.3l-2.3 -2.3zM1101.19 1121.68l2.3 2.3l-2.3 2.3l-2.3 -2.3zM1209.04 1004.02l2.3 2.3l-2.3 2.3l-2.3 -2.3zM1220.37 983.75l2.3 2.3l-2.3 2.3l-2.3 -2.3zM1220.37 991.16l2.3 2.3l-2.3 2.3l-2.3 -2.3zM1243.25 979.4l2.3 2.3l-2.3 2.3l-2.3 -2.3zM1246.08 977.87l2.3 2.3l-2.3 2.3l-2.3 -2.3zM1251.96 969.37l2.3 2.3l-2.3 2.3l-2.3 -2.3zM1270.48 960.87l2.3 2.3l-2.3 2.3l-2.3 -2.3z"/>
<path class="sm" d="M993.77 1122.24 L1010.11 1125.94 L1027.54 1129.65 L1046.5 1128.12 L1059.36 1124.42 L1079.4 1119.41 L1092.47 1116.14 L1101.19 1113.96 L1110.34 1104.15 L1123.41 1092.17 L1136.49 1080.18 L1156.1 1061.66 L1182.24 1035.52 L1209.04 1008.28 L1220.37 996.29 L1243.25 979.95 L1251.96 971.24 L1270.48 955.98"/>
<circle class="mu" cx="1102.5" cy="1089.5" r="4.85"/>
<path class="th" d="M1185.44 1026.01 L1183.18 1025.24 L1179.7 1025.45 L1175.04 1026.62 L1169.29 1028.75 L1162.52 1031.8 L1154.85 1035.73 L1146.38 1040.47 L1137.24 1045.95 L1127.58 1052.1 L1117.54 1058.81 L1107.27 1065.99 L1096.93 1073.52 L1086.67 1081.29 L1076.65 1089.19 L1067.03 1097.1 L1057.94 1104.89 L1049.53 1112.44 L1041.92 1119.65 L1035.23 1126.4 L1029.55 1132.59 L1024.99 1138.13 L1021.6 1142.93 L1019.43 1146.92 L1018.53 1150.04 L1018.9 1152.24 L1020.53 1153.5 L1023.41 1153.78 L1027.49 1153.09 L1032.7 1151.43 L1038.97 1148.83 L1046.21 1145.34 L1054.3 1141 L1063.11 1135.88 L1072.53 1130.05 L1082.4 1123.61 L1092.58 1116.65 L1102.9 1109.29 L1113.22 1101.62 L1123.38 1093.77 L1133.22 1085.85 L1142.59 1077.99 L1151.36 1070.3 L1159.39 1062.9 L1166.55 1055.91 L1172.74 1049.43 L1177.87 1043.55 L1181.86 1038.37 L1184.64 1033.97 L1186.18 1030.41 L1186.45 1027.74Z"/>
</g>
</g>
<g id="p55">
<rect class="ln" x="1299.9" y="954.4" width="297.1" height="211.3"/>
<g clip-path="url(#c44)">
<rect class="bar" x="1294.9" y="1152.8" width="23.1" height="12.9"/>
<rect class="bar" x="1318" y="1025.2" width="46.5" height="140.5"/>
<rect class="bar" x="1364.5" y="1025.2" width="44.1" height="140.5"/>
<rect class="bar" x="1499.4" y="1138.4" width="44.6" height="27.3"/>
<rect class="bar" x="1544" y="1095.3" width="45.8" height="70.4"/>
<path class="ln" style="stroke-width:1.3" d="M1310.79 1165.7 V1158.7M1321.26 1165.7 V1158.7M1333.68 1165.7 V1158.7M1339.13 1165.7 V1158.7M1341.96 1165.7 V1158.7M1344.57 1165.7 V1158.7M1353.29 1165.7 V1158.7M1358.31 1165.7 V1158.7M1363.1 1165.7 V1158.7M1373.56 1165.7 V1158.7M1376.18 1165.7 V1158.7M1378.36 1165.7 V1158.7M1406.03 1165.7 V1158.7M1525.47 1165.7 V1158.7M1555.32 1165.7 V1158.7M1575.16 1165.7 V1158.7M1586.92 1165.7 V1158.7"/>
<path class="ln" style="stroke-width:3.2" d="M1560.34 1165.7 V1158.7"/>
<path class="th" d="M1299 1103.5 C1299.15 1103.27 1298.45 1104.62 1299.9 1102.1 C1301.35 1099.58 1304.77 1093.13 1307.7 1088.4 C1310.63 1083.67 1314.23 1079.25 1317.5 1073.7 C1320.77 1068.15 1323.7 1061.15 1327.3 1055.1 C1330.9 1049.05 1335.35 1041.9 1339.1 1037.4 C1342.85 1032.9 1347.03 1030.02 1349.8 1028.1 C1352.57 1026.18 1353.9 1026.33 1355.7 1025.9 C1357.5 1025.47 1358.97 1025.5 1360.6 1025.5 C1362.23 1025.5 1363.53 1025.22 1365.5 1025.9 C1367.47 1026.58 1369.78 1027.35 1372.4 1029.6 C1375.02 1031.85 1378.43 1035.65 1381.2 1039.4 C1383.97 1043.15 1386.23 1047.7 1389 1052.1 C1391.77 1056.5 1394.53 1060.57 1397.8 1065.8 C1401.07 1071.03 1404.83 1076.8 1408.6 1083.5 C1412.37 1090.2 1416.83 1099.75 1420.4 1106 C1423.97 1112.25 1426.73 1116.6 1430 1121 C1433.27 1125.4 1436.7 1128.72 1440 1132.4 C1443.3 1136.08 1446.53 1140.33 1449.8 1143.1 C1453.07 1145.87 1456.33 1147.6 1459.6 1149 C1462.87 1150.4 1466.13 1151.08 1469.4 1151.5 C1472.67 1151.92 1475.93 1152 1479.2 1151.5 C1482.47 1151 1485.73 1149.73 1489 1148.5 C1492.27 1147.27 1495.53 1145.8 1498.8 1144.1 C1502.07 1142.4 1505.33 1140.25 1508.6 1138.3 C1511.87 1136.35 1515.15 1134.37 1518.4 1132.4 C1521.65 1130.43 1524.85 1128.22 1528.1 1126.5 C1531.35 1124.78 1534.63 1123.4 1537.9 1122.1 C1541.17 1120.8 1544.43 1119.43 1547.7 1118.7 C1550.97 1117.97 1554.23 1117.7 1557.5 1117.7 C1560.77 1117.7 1564.03 1117.88 1567.3 1118.7 C1570.57 1119.52 1573.83 1121.13 1577.1 1122.6 C1580.37 1124.07 1583.5 1125.88 1586.9 1127.5 C1590.3 1129.12 1595.73 1131.5 1597.5 1132.3"/>
</g>
<text class="lb" style="font-size:21.2px" transform="translate(1447.9 996.9) scale(0.98 1)" text-anchor="middle">logBOD</text>
</g>
<g id="axes">
<path class="ln" d="M382.1 37.6 V26.7M428.05 37.6 V26.7M473.9 37.6 V26.7M520.1 37.6 V26.7M566 37.6 V26.7M610.7 37.6 V26.7"/>
<text class="tk" transform="translate(380.7 15.7) scale(0.93 1)" text-anchor="middle">6.0</text>
<text class="tk" transform="translate(426.65 15.7) scale(0.93 1)" text-anchor="middle">6.5</text>
<text class="tk" transform="translate(472.5 15.7) scale(0.93 1)" text-anchor="middle">7.0</text>
<text class="tk" transform="translate(518.7 15.7) scale(0.93 1)" text-anchor="middle">7.5</text>
<text class="tk" transform="translate(564.6 15.7) scale(0.93 1)" text-anchor="middle">8.0</text>
<text class="tk" transform="translate(609.3 15.7) scale(0.93 1)" text-anchor="middle">8.5</text>
<path class="ln" d="M1019.05 37.6 V26.7M1060.9 37.6 V26.7M1102.7 37.6 V26.7M1144 37.6 V26.7M1185.75 37.6 V26.7M1227.6 37.6 V26.7M1270.5 37.6 V26.7"/>
<text class="tk" transform="translate(1017.65 15.7) scale(0.99 1)" text-anchor="middle">-1.0</text>
<text class="tk" transform="translate(1059.5 15.7) scale(0.99 1)" text-anchor="middle">-0.5</text>
<text class="tk" transform="translate(1101.3 15.7) scale(0.93 1)" text-anchor="middle">0.0</text>
<text class="tk" transform="translate(1142.6 15.7) scale(0.93 1)" text-anchor="middle">0.5</text>
<text class="tk" transform="translate(1184.35 15.7) scale(0.93 1)" text-anchor="middle">1.0</text>
<text class="tk" transform="translate(1226.2 15.7) scale(0.93 1)" text-anchor="middle">1.5</text>
<text class="tk" transform="translate(1269.1 15.7) scale(0.93 1)" text-anchor="middle">2.0</text>
<path class="ln" d="M48.6 1165.7 V1176.6M97.1 1165.7 V1176.6M144.7 1165.7 V1176.6M193.75 1165.7 V1176.6M242.5 1165.7 V1176.6M290.1 1165.7 V1176.6"/>
<text class="tk" transform="translate(47.2 1199.9) scale(0.99 1)" text-anchor="middle">-1.0</text>
<text class="tk" transform="translate(95.7 1199.9) scale(0.99 1)" text-anchor="middle">-0.5</text>
<text class="tk" transform="translate(143.3 1199.9) scale(0.93 1)" text-anchor="middle">0.0</text>
<text class="tk" transform="translate(192.35 1199.9) scale(0.93 1)" text-anchor="middle">0.5</text>
<text class="tk" transform="translate(241.1 1199.9) scale(0.93 1)" text-anchor="middle">1.0</text>
<text class="tk" transform="translate(288.7 1199.9) scale(0.93 1)" text-anchor="middle">1.5</text>
<path class="ln" d="M692.3 1165.7 V1176.6M756.1 1165.7 V1176.6M820.2 1165.7 V1176.6M884.5 1165.7 V1176.6M948.3 1165.7 V1176.6"/>
<text class="tk" transform="translate(691.88 1199.9) scale(1.0 1)" text-anchor="middle">2</text>
<text class="tk" transform="translate(755.68 1199.9) scale(1.0 1)" text-anchor="middle">3</text>
<text class="tk" transform="translate(819.78 1199.9) scale(1.0 1)" text-anchor="middle">4</text>
<text class="tk" transform="translate(884.08 1199.9) scale(1.0 1)" text-anchor="middle">5</text>
<text class="tk" transform="translate(947.88 1199.9) scale(1.0 1)" text-anchor="middle">6</text>
<path class="ln" d="M1318 1165.7 V1176.6M1363.8 1165.7 V1176.6M1408.4 1165.7 V1176.6M1454.6 1165.7 V1176.6M1498.9 1165.7 V1176.6M1544 1165.7 V1176.6M1589.8 1165.7 V1176.6"/>
<text class="tk" transform="translate(1316.6 1199.9) scale(0.99 1)" text-anchor="middle">-1.0</text>
<text class="tk" transform="translate(1362.4 1199.9) scale(0.99 1)" text-anchor="middle">-0.5</text>
<text class="tk" transform="translate(1407 1199.9) scale(0.93 1)" text-anchor="middle">0.0</text>
<text class="tk" transform="translate(1453.2 1199.9) scale(0.93 1)" text-anchor="middle">0.5</text>
<text class="tk" transform="translate(1497.5 1199.9) scale(0.93 1)" text-anchor="middle">1.0</text>
<text class="tk" transform="translate(1542.6 1199.9) scale(0.93 1)" text-anchor="middle">1.5</text>
<text class="tk" transform="translate(1588.4 1199.9) scale(0.93 1)" text-anchor="middle">2.0</text>
<path class="ln" d="M37.1 457.1 H26.2M37.1 424 H26.2M37.1 391.1 H26.2M37.1 359.3 H26.2M37.1 326.15 H26.2M37.1 293.2 H26.2"/>
<text class="tk" transform="translate(15.3 458.3) rotate(-90) scale(0.93 1)" text-anchor="middle">6.0</text>
<text class="tk" transform="translate(15.3 392.3) rotate(-90) scale(0.93 1)" text-anchor="middle">7.0</text>
<text class="tk" transform="translate(15.3 327.35) rotate(-90) scale(0.93 1)" text-anchor="middle">8.0</text>
<path class="ln" d="M37.1 911.1 H26.2M37.1 882.1 H26.2M37.1 852 H26.2M37.1 822.2 H26.2M37.1 793.2 H26.2M37.1 763.1 H26.2M37.1 733.9 H26.2"/>
<text class="tk" transform="translate(15.3 912.3) rotate(-90) scale(0.99 1)" text-anchor="middle">-1.0</text>
<text class="tk" transform="translate(15.3 853.2) rotate(-90) scale(0.93 1)" text-anchor="middle">0.0</text>
<text class="tk" transform="translate(15.3 794.4) rotate(-90) scale(0.93 1)" text-anchor="middle">1.0</text>
<text class="tk" transform="translate(15.3 735.1) rotate(-90) scale(0.93 1)" text-anchor="middle">2.0</text>
<path class="ln" d="M1597 240.1 H1607.9M1597 205.6 H1607.9M1597 171.1 H1607.9M1597 136.7 H1607.9M1597 102 H1607.9M1597 67.5 H1607.9"/>
<text class="tk" transform="translate(1631.2 241.3) rotate(-90) scale(0.99 1)" text-anchor="middle">-1.0</text>
<text class="tk" transform="translate(1631.2 172.3) rotate(-90) scale(0.93 1)" text-anchor="middle">0.0</text>
<text class="tk" transform="translate(1631.2 137.9) rotate(-90) scale(0.93 1)" text-anchor="middle">0.5</text>
<text class="tk" transform="translate(1631.2 103.2) rotate(-90) scale(0.93 1)" text-anchor="middle">1.0</text>
<text class="tk" transform="translate(1631.2 68.7) rotate(-90) scale(0.93 1)" text-anchor="middle">1.5</text>
<path class="ln" d="M1597 690 H1607.9M1597 645.5 H1607.9M1597 599.4 H1607.9M1597 553.4 H1607.9M1597 508.6 H1607.9"/>
<text class="tk" transform="translate(1631.2 690.36) rotate(-90) scale(1.0 1)" text-anchor="middle">2</text>
<text class="tk" transform="translate(1631.2 645.86) rotate(-90) scale(1.0 1)" text-anchor="middle">3</text>
<text class="tk" transform="translate(1631.2 599.76) rotate(-90) scale(1.0 1)" text-anchor="middle">4</text>
<text class="tk" transform="translate(1631.2 553.76) rotate(-90) scale(1.0 1)" text-anchor="middle">5</text>
<text class="tk" transform="translate(1631.2 508.96) rotate(-90) scale(1.0 1)" text-anchor="middle">6</text>
<path class="ln" d="M1597 1152.6 H1607.9M1597 1121.6 H1607.9M1597 1089.3 H1607.9M1597 1056.7 H1607.9M1597 1025.1 H1607.9M1597 993.7 H1607.9M1597 959.9 H1607.9"/>
<text class="tk" transform="translate(1631.2 1153.8) rotate(-90) scale(0.99 1)" text-anchor="middle">-1.0</text>
<text class="tk" transform="translate(1631.2 1090.5) rotate(-90) scale(0.93 1)" text-anchor="middle">0.0</text>
<text class="tk" transform="translate(1631.2 1026.3) rotate(-90) scale(0.93 1)" text-anchor="middle">1.0</text>
<text class="tk" transform="translate(1631.2 961.1) rotate(-90) scale(0.93 1)" text-anchor="middle">2.0</text>
</g>
</svg>
</body></html>
